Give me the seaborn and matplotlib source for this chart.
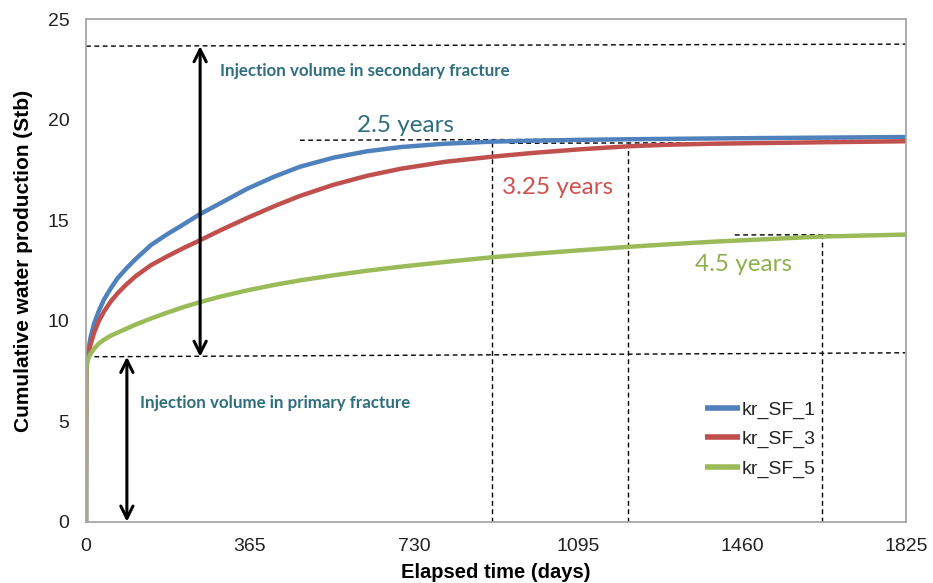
import matplotlib
matplotlib.use("Agg")
import matplotlib.pyplot as plt
import seaborn as sns
import pandas as pd

# ---- data ----
days = [0, 0.5, 1, 3, 10, 18, 28, 40, 55, 70, 90, 110, 144, 181, 218, 254, 300,
        358, 420, 476, 550, 625, 700, 800, 903, 1000, 1100, 1207, 1300, 1400,
        1637, 1825]
kr_sf_1 = [0, 7.0, 7.6, 8.2, 9.15, 9.85, 10.45, 11.05, 11.6, 12.1, 12.6, 13.05,
           13.75, 14.3, 14.8, 15.3, 15.85, 16.55, 17.17, 17.65, 18.1, 18.42, 18.63,
           18.8, 18.9, 18.95, 18.99, 19.02, 19.04, 19.06, 19.1, 19.13]
kr_sf_3 = [0, 7.0, 7.6, 8.1, 8.8, 9.4, 9.95, 10.45, 10.95, 11.35, 11.8, 12.2,
           12.75, 13.2, 13.62, 14.0, 14.5, 15.1, 15.7, 16.2, 16.75, 17.2, 17.55,
           17.9, 18.15, 18.35, 18.52, 18.67, 18.75, 18.8, 18.87, 18.92]
kr_sf_5 = [0, 7.0, 7.6, 8.0, 8.35, 8.6, 8.85, 9.05, 9.25, 9.4, 9.6, 9.8,
           10.1, 10.4, 10.68, 10.92, 11.2, 11.5, 11.78, 12.0, 12.25, 12.48, 12.68,
           12.92, 13.15, 13.33, 13.5, 13.67, 13.8, 13.93, 14.18, 14.28]
series_names = ["kr_SF_1", "kr_SF_3", "kr_SF_5"]
series_colors = ["#4F81BD", "#C0504D", "#9BBB59"]

x_ticks = [0, 365, 730, 1095, 1460, 1825]
y_ticks = [0, 5, 10, 15, 20, 25]

# annotation guide values
primary_level = (8.2, 8.4)        # left/right y of primary dashed line
secondary_level = (23.65, 23.75)  # left/right y of secondary dashed line
arrow_sec_x = 254
arrow_pri_x = 91
t25_x, t25_y, t25_start = 903, 18.97, 476
t325_x, t325_y, t325_start = 1207, 18.82, 943
t45_x, t45_y, t45_start = 1637, 14.26, 1444

df = pd.concat([
    pd.DataFrame({"day": days, "value": vals, "series": name})
    for name, vals in zip(series_names, [kr_sf_1, kr_sf_3, kr_sf_5])
])

sns.set_theme(style="white")
plt.rcParams["font.family"] = ["Liberation Sans", "DejaVu Sans"]

fig = plt.figure(figsize=(9.33, 5.83), dpi=100)
ax = fig.add_axes([86 / 933, 1 - 521.7 / 583, 820 / 933, (521.7 - 19) / 583])

sns.lineplot(data=df, x="day", y="value", hue="series",
             palette=dict(zip(series_names, series_colors)),
             linewidth=3.2, ax=ax, sort=False, estimator=None)
for ln in ax.get_lines():
    ln.set_solid_joinstyle("round")
    ln.set_solid_capstyle("butt")

ax.set_xlim(0, 1825)
ax.set_ylim(0, 25)
ax.set_xticks(x_ticks)
ax.set_yticks(y_ticks)
ax.tick_params(axis="both", which="major", direction="out", length=6,
               width=1.2, color="#A6A6A6", labelsize=14, labelcolor="#222222")
ax.tick_params(axis="x", pad=6)
ax.tick_params(axis="y", pad=6)
for s in ax.spines.values():
    s.set_color("#A6A6A6")
    s.set_linewidth(1.3)
ax.grid(False)

ax.set_xlabel("Elapsed time (days)", fontsize=14.5, fontweight="bold", color="black")
ax.set_ylabel("Cumulative water production (Stb)", fontsize=15,
              fontweight="bold", color="black")
ax.xaxis.set_label_coords(0.5, -0.083)
ax.yaxis.set_label_coords(-0.065, 0.518)

dash = dict(color="black", linestyle=(0, (3.5, 2.5)), linewidth=1.0, zorder=1)
ax.plot([0, 1825], list(primary_level), **dash)
ax.plot([0, 1825], list(secondary_level), **dash)
ax.plot([t25_start, 1825], [t25_y, t25_y + 0.1], **dash)
ax.plot([t25_x, t25_x], [0, t25_y], **dash)
ax.plot([t325_start, 1825], [t325_y, t325_y + 0.05], **dash)
ax.plot([t325_x, t325_x], [0, t325_y], **dash)
ax.plot([t45_start, 1825], [t45_y, t45_y + 0.02], **dash)
ax.plot([t45_x, t45_x], [0, t45_y], **dash)

arrow = dict(arrowstyle="<->", lw=2.2, color="black", mutation_scale=22,
             shrinkA=0, shrinkB=0)
ax.annotate("", xy=(arrow_sec_x, secondary_level[0]),
            xytext=(arrow_sec_x, primary_level[0]), arrowprops=arrow)
ax.annotate("", xy=(arrow_pri_x, primary_level[0]),
            xytext=(arrow_pri_x, 0), arrowprops=arrow)

teal = "#2E6E7E"
ax.text(298, 22.42, "Injection volume in secondary fracture", fontsize=12.2,
        fontweight="bold", color=teal, family="Lato", va="center", ha="left")
ax.text(120, 5.9, "Injection volume in primary fracture", fontsize=12.2,
        fontweight="bold", color=teal, family="Lato", va="center", ha="left")
ax.text(603, 19.7, "2.5 years", fontsize=17.5, color=teal, family="Lato",
        va="center", ha="left")
ax.text(926, 16.6, "3.25 years", fontsize=17.5, color="#D0504F", family="Lato",
        va="center", ha="left")
ax.text(1355, 12.8, "4.5 years", fontsize=17.5, color="#8DB04C", family="Lato",
        va="center", ha="left")

leg = ax.legend(loc="upper left", bbox_to_anchor=((705 - 86) / 820, (521.7 - 401) / 502.7),
                frameon=False, fontsize=14, handlelength=1.8, handletextpad=0.1,
                labelspacing=0.6, borderpad=0, borderaxespad=0)
for h in leg.get_lines():
    h.set_linewidth(4)

fig.savefig("out.png", dpi=100)
